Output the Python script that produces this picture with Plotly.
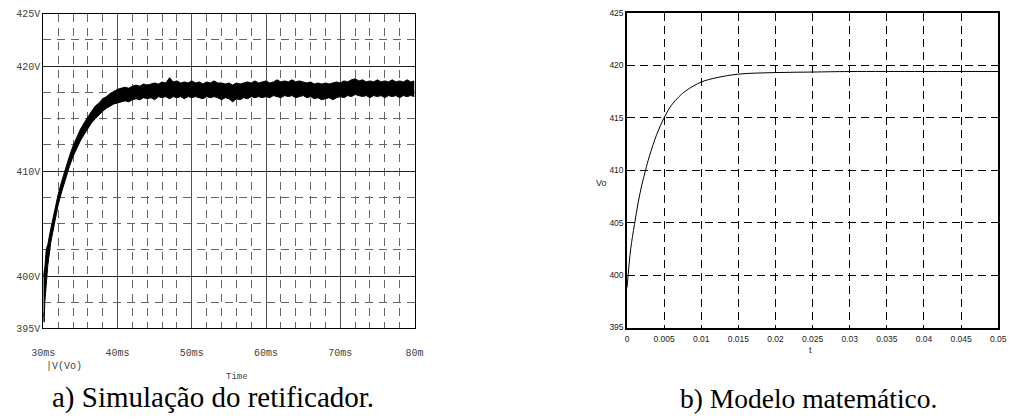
import plotly.graph_objects as go

# ---- a) PSpice transient of V(Vo): ripple band (upper / lower envelope), time in ms
sim_t_ms = [30.0, 30.1, 30.2, 30.4, 30.6, 31.0, 31.5, 32.0, 32.5, 33.0, 33.5, 34.0,
            34.5, 35.0, 35.5, 36.0, 36.5, 37.0, 37.5, 38.0, 38.5, 39.0, 39.5, 40.0,
            40.5, 41.0, 41.5, 42.0, 42.5, 43.0, 43.5, 44.0, 44.5, 45.0, 45.5, 46.0,
            46.5, 47.0, 47.5, 48.0, 48.5, 49.0, 49.5, 50.0, 50.5, 51.0, 51.5, 52.0,
            52.5, 53.0, 53.5, 54.0, 54.5, 55.0, 55.5, 56.0, 56.5, 57.0, 57.5, 58.0,
            58.5, 59.0, 59.5, 60.0, 60.5, 61.0, 61.5, 62.0, 62.5, 63.0, 63.5, 64.0,
            64.5, 65.0, 65.5, 66.0, 66.5, 67.0, 67.5, 68.0, 68.5, 69.0, 69.5, 70.0,
            70.5, 71.0, 71.5, 72.0, 72.5, 73.0, 73.5, 74.0, 74.5, 75.0, 75.5, 76.0,
            76.5, 77.0, 77.5, 78.0, 78.5, 79.0, 79.5, 80.0]
sim_v_upper = [400.0, 400.3, 400.8, 402.6, 403.0, 404.5, 406.2, 407.8, 409.1, 410.3, 411.4, 412.4,
               413.2, 414.0, 414.6, 415.2, 415.7, 416.2, 416.5, 416.9, 417.1, 417.4, 417.6, 417.8,
               417.9, 418.0, 417.9, 418.1, 418.2, 418.1, 418.3, 418.2, 418.3, 418.4, 418.3, 418.5,
               418.4, 418.9, 418.5, 418.6, 418.4, 418.5, 418.4, 418.6, 418.4, 418.5, 418.3, 418.5,
               418.4, 418.6, 418.4, 418.4, 418.3, 418.4, 418.2, 418.4, 418.3, 418.4, 418.5, 418.4,
               418.6, 418.4, 418.5, 418.6, 418.4, 418.5, 418.7, 418.5, 418.6, 418.5, 418.7, 418.5,
               418.6, 418.5, 418.4, 418.5, 418.3, 418.4, 418.3, 418.4, 418.3, 418.4, 418.5, 418.4,
               418.6, 418.5, 418.7, 418.8, 418.6, 418.7, 418.5, 418.6, 418.5, 418.7, 418.5, 418.6,
               418.5, 418.7, 418.5, 418.6, 418.5, 418.7, 418.5, 418.6]
sim_v_lower = [396.5, 395.6, 397.5, 399.8, 401.0, 403.2, 405.0, 406.8, 408.1, 409.3, 410.4, 411.4,
               412.2, 412.9, 413.5, 414.1, 414.6, 415.0, 415.4, 415.7, 416.0, 416.2, 416.4, 416.5,
               416.6, 416.7, 416.6, 416.8, 416.9, 416.8, 417.0, 416.9, 417.0, 416.8, 417.1, 417.0,
               417.1, 416.9, 417.1, 417.0, 417.1, 416.9, 417.1, 417.0, 417.1, 417.0, 416.9, 417.1,
               417.0, 417.1, 417.0, 416.8, 417.0, 416.9, 416.6, 416.9, 416.8, 417.0, 416.9, 417.1,
               417.0, 417.1, 417.0, 417.1, 417.0, 417.2, 417.1, 417.0, 417.2, 417.1, 417.2, 417.0,
               417.1, 417.2, 417.0, 417.1, 416.9, 417.0, 416.8, 416.9, 417.0, 416.8, 417.0, 417.1,
               417.0, 417.2, 417.1, 417.3, 417.2, 417.1, 417.2, 417.0, 417.2, 417.1, 417.2, 417.0,
               417.2, 417.1, 417.2, 417.0, 417.2, 417.1, 417.2, 417.1]

sim_xticks = [30, 40, 50, 60, 70, 80]
sim_xtext = ["30ms", "40ms", "50ms", "60ms", "70ms", "80m"]
sim_yticks = [395, 400, 410, 420, 425]
sim_ytext = ["395V", "400V", "410V", "420V", "425V"]

# ---- b) mathematical model response Vo(t), t in seconds
model_t = [0, 0.0005, 0.001, 0.0015, 0.002, 0.0025, 0.003, 0.004, 0.005, 0.006, 0.007,
           0.008, 0.01, 0.012, 0.015, 0.02, 0.025, 0.03, 0.04, 0.05]
model_v = [398.8, 402.5, 404.8, 406.9, 408.6, 410.0, 411.3, 413.4, 415.0, 416.2, 417.0,
           417.6, 418.4, 418.8, 419.15, 419.3, 419.35, 419.4, 419.4, 419.4]

model_xticks = [0, 0.005, 0.01, 0.015, 0.02, 0.025, 0.03, 0.035, 0.04, 0.045, 0.05]
model_xtext = ["0", "0.005", "0.01", "0.015", "0.02", "0.025", "0.03", "0.035", "0.04", "0.045", "0.05"]
model_yticks = [395, 400, 405, 410, 415, 420, 425]

MONO = "Liberation Mono, Courier New, DejaVu Sans Mono, monospace"
SANS = "Liberation Sans, Arial, sans-serif"
SERIF = "Liberation Serif, Times New Roman, DejaVu Serif, serif"

fig = go.Figure()

# ripple band of the simulated output voltage
fig.add_trace(go.Scatter(x=sim_t_ms, y=sim_v_upper, mode="lines",
                         line=dict(color="black", width=1), xaxis="x", yaxis="y",
                         showlegend=False, hoverinfo="skip"))
fig.add_trace(go.Scatter(x=sim_t_ms, y=sim_v_lower, mode="lines", fill="tonexty",
                         fillcolor="black", line=dict(color="black", width=1),
                         xaxis="x", yaxis="y", showlegend=False, hoverinfo="skip"))

# model curve
fig.add_trace(go.Scatter(x=model_t, y=model_v, mode="lines", line_shape="spline",
                         line=dict(color="black", width=1), xaxis="x2", yaxis="y2",
                         showlegend=False))


def note(text, x, y, family, size, color, xanchor="center"):
    return dict(text=text, x=x / 1016, y=1 - y / 420, xref="paper", yref="paper",
                xanchor=xanchor, yanchor="middle", showarrow=False,
                font=dict(family=family, size=size, color=color))


fig.update_layout(
    width=1016, height=420,
    margin=dict(l=0, r=0, t=0, b=0),
    paper_bgcolor="white", plot_bgcolor="white",
    xaxis=dict(
        domain=[32 / 1016, 411 / 1016], range=[30, 80],
        tickmode="array", tickvals=sim_xticks, ticktext=sim_xtext,
        showgrid=True, gridcolor="#555", gridwidth=1,
        minor=dict(tickmode="linear", tick0=30, dtick=2, showgrid=True,
                   gridcolor="#666", gridwidth=1, griddash="8px,6px", ticks=""),
        showline=True, linecolor="black", linewidth=1, mirror=True,
        ticks="", zeroline=False, ticklabelstandoff=15,
        tickfont=dict(family=MONO, size=10, color="#444"),
        anchor="y",
    ),
    yaxis=dict(
        domain=[1 - 333 / 420, 1 - 9 / 420], range=[395, 425],
        tickmode="array", tickvals=sim_yticks, ticktext=sim_ytext,
        showgrid=True, gridcolor="#222", gridwidth=1,
        minor=dict(tickmode="linear", tick0=395, dtick=2.5, showgrid=True,
                   gridcolor="#666", gridwidth=1, griddash="8px,6px", ticks=""),
        showline=True, linecolor="black", linewidth=1, mirror=True,
        ticks="", zeroline=False, ticklabelstandoff=0,
        tickfont=dict(family=MONO, size=10, color="#444"),
        anchor="x",
    ),
    xaxis2=dict(
        domain=[628 / 1016, 1007 / 1016], range=[0, 0.05],
        tickmode="array", tickvals=model_xticks, ticktext=model_xtext,
        showgrid=True, gridcolor="black", gridwidth=1, griddash="8px,5px",
        showline=True, linecolor="black", linewidth=1.5, mirror="ticks",
        ticks="inside", ticklen=3, tickcolor="black", zeroline=False,
        ticklabelstandoff=3,
        tickfont=dict(family=SANS, size=8.5, color="#222"),
        anchor="y2",
    ),
    yaxis2=dict(
        domain=[1 - 332 / 420, 1 - 8 / 420], range=[395, 425],
        tickmode="array", tickvals=model_yticks,
        showgrid=True, gridcolor="black", gridwidth=1, griddash="8px,5px",
        showline=True, linecolor="black", linewidth=1.5, mirror="ticks",
        ticks="inside", ticklen=3, tickcolor="black", zeroline=False,
        tickfont=dict(family=SANS, size=8.5, color="#222"),
        anchor="x2",
    ),
    annotations=[
        note("|V(Vo)", 33, 372, MONO, 10, "#444", xanchor="left"),
        note("Time", 230, 383, MONO, 9, "#444"),
        note("a) Simulação do retificador.", 205, 404, SERIF, 29, "black"),
        note("Vo", 602, 183, SANS, 9, "#222"),
        note("t", 815, 355, SANS, 9, "#222"),
        note("b) Modelo matemático.", 813, 405, SERIF, 27.5, "black"),
    ],
)

fig.write_html("out.html")
